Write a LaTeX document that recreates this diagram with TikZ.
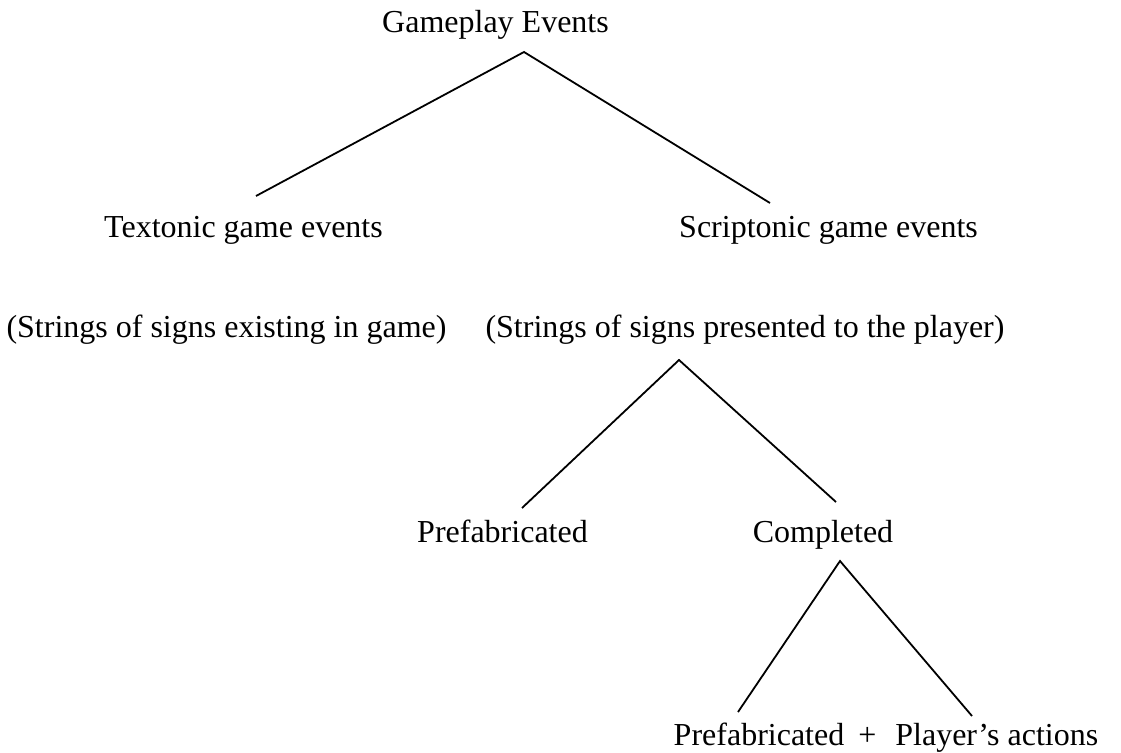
\documentclass[tikz,border=0pt]{standalone}
\usepackage{fontspec}
\setmainfont{Liberation Serif}
\begin{document}
\begin{tikzpicture}[x=1pt,y=-1pt,
  lbl/.style={anchor=base,inner sep=0pt,font=\fontsize{32}{38}\selectfont},
  branch/.style={draw=black,line width=1.8pt,line join=miter}]
\useasboundingbox[fill=white] (0,0) rectangle (1121,752);

% labels of the tree
\node[lbl] (ge)  at (495.5,33)  {Gameplay Events};
\node[lbl] (te)  at (243.5,237) {Textonic game events};
\node[lbl] (se)  at (828.5,237) {Scriptonic game events};
\node[lbl] (tes) at (226.5,337) {(Strings of signs existing in game)};
\node[lbl] (ses) at (745,337)   {(Strings of signs presented to the player)};
\node[lbl] (pf)  at (502.5,542) {Prefabricated};
\node[lbl] (cp)  at (823,542)   {Completed};
\node[lbl] (pa)  at (886,745)   {Prefabricated\hspace{14pt}+\hspace{19pt}Player’s actions};

% branch points and branch ends
\coordinate (ge-fork) at (524,52);
\coordinate (te-top)  at (256,196);
\coordinate (se-top)  at (770,203);
\coordinate (ses-fork) at (679,360);
\coordinate (pf-top)  at (522,508);
\coordinate (cp-top)  at (836,502);
\coordinate (cp-fork) at (840,561);
\coordinate (pa-left)  at (738,712);
\coordinate (pa-right) at (972,716);

% branches
\draw[branch] (te-top) -- (ge-fork) -- (se-top);
\draw[branch] (pf-top) -- (ses-fork) -- (cp-top);
\draw[branch] (pa-left) -- (cp-fork) -- (pa-right);
\end{tikzpicture}
\end{document}
